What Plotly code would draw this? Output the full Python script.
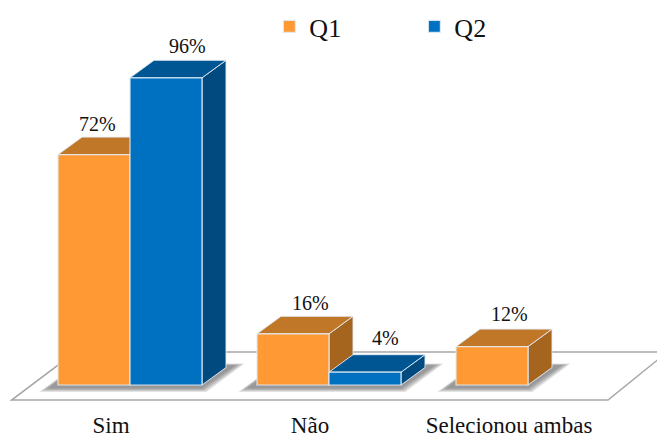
import plotly.graph_objects as go

categories = ["Sim", "Não", "Selecionou ambas"]
q1_values = [72, 16, 12]
q2_values = [96, 4, None]
floor_x = [-0.595, 2.402, 2.70, -0.275]
floor_y = [-4.7, -4.7, 10.3, 10.3]

ORANGE, ORANGE_TOP, ORANGE_SIDE = "#FF9933", "#C07728", "#A5651F"
BLUE, BLUE_TOP, BLUE_SIDE = "#0070C0", "#005693", "#004A80"
EDGE = "rgba(225,235,245,0.9)"
W = 72 / 199
DX = 24 / 199
DY = 17.5 / 3.2
FONT = "Liberation Serif"


def poly(xs, ys, fill, line="rgba(0,0,0,0)", width=0):
    path = "M" + "L".join(f"{x:.4f},{y:.3f}" for x, y in zip(xs, ys)) + "Z"
    return dict(type="path", path=path, xref="x", yref="y", layer="below",
                fillcolor=fill, line=dict(color=line, width=width))


shapes = [poly(floor_x, floor_y, "white", "#A6A6A6", 1.5)]

# soft shadows on the floor
for i in range(3):
    q2 = q2_values[i]
    left = i - W
    right = i + (W if q2 is not None else 0)
    for k in range(5):
        g = (4 - k) * 2.2 / 199
        v = (4 - k) * 0.3
        shapes.append(poly(
            [left - 0.05 - g, right + g * 0.5, right + 0.17 + g, left + 0.1],
            [-1.0 - v, -1.0 - v, 6.2 + v * 0.4, 6.2 + v * 0.4],
            "rgba(90,90,90,0.17)"))


def faces(cx, value, top, side):
    x0, x1 = cx, cx + W
    return [
        poly([x1, x1 + DX, x1 + DX, x1], [0, DY, value + DY, value], side, EDGE, 1),
        poly([x0, x1, x1 + DX, x0 + DX], [value, value, value + DY, value + DY], top, EDGE, 1),
    ]


for i in range(3):
    shapes += faces(i - W, q1_values[i], ORANGE_TOP, ORANGE_SIDE)
    if q2_values[i] is not None:
        shapes += faces(i, q2_values[i], BLUE_TOP, BLUE_SIDE)

fig = go.Figure()
fig.add_bar(name="Q1", x=categories, y=q1_values, marker=dict(color=ORANGE, line=dict(color=EDGE, width=1.2)))
fig.add_bar(name="Q2", x=categories, y=q2_values, marker=dict(color=BLUE, line=dict(color=EDGE, width=1.2)))

annotations = []
label_offsets = [[(3, 31), (21, 32)], [(17, 31), (20, 34)], [(17, 33), (0, 0)]]
for i, cat in enumerate(categories):
    for j, vals in enumerate((q1_values, q2_values)):
        v = vals[i]
        if v is None:
            continue
        ox, oy = label_offsets[i][j]
        annotations.append(dict(
            x=i + (j - 0.5) * W, y=v, xref="x", yref="y", text=f"{v}%", showarrow=False,
            xshift=ox, yshift=oy, xanchor="center", yanchor="middle",
            font=dict(family=FONT, size=20, color="#111111")))

fig.update_layout(
    width=657, height=438, autosize=False,
    margin=dict(l=0, r=0, t=0, b=35),
    paper_bgcolor="white", plot_bgcolor="white",
    barmode="group", bargap=1 - 2 * W, bargroupgap=0,
    shapes=shapes, annotations=annotations,
    legend=dict(orientation="h", x=0.41, y=0.9925, xanchor="left", yanchor="top",
                entrywidth=100, entrywidthmode="pixels",
                bgcolor="rgba(0,0,0,0)", font=dict(family=FONT, size=26, color="#111111")),
    xaxis=dict(type="category", categoryorder="array", categoryarray=categories,
               range=[-130 / 199, 527 / 199], showgrid=False, zeroline=False, showline=False,
               ticks="", ticklabelshift=-19, ticklabelstandoff=6,
               tickfont=dict(family=FONT, size=23, color="#111111")),
    yaxis=dict(range=[-18 / 3.2, 385 / 3.2], visible=False, showgrid=False, zeroline=False),
)

fig.write_html("out.html", config={"displayModeBar": False},
               post_script="document.body.style.margin='0';document.documentElement.style.overflow='hidden';")
